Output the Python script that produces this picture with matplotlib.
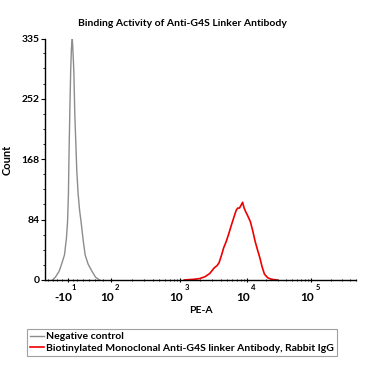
import numpy as np
import matplotlib
matplotlib.use("Agg")
import matplotlib.pyplot as plt

plt.rcParams["font.family"] = ["Lato", "DejaVu Sans"]
plt.rcParams["font.weight"] = "bold"

# x positions are on the display (biexponential) scale, roughly 10^n -> n
neg_x = [1.127, 1.17, 1.225, 1.27, 1.306, 1.335, 1.352, 1.365, 1.373, 1.386,
         1.399, 1.41, 1.423, 1.433, 1.446, 1.46, 1.475, 1.49, 1.51, 1.532,
         1.554, 1.585, 1.615, 1.66, 1.718, 1.77, 1.831]
neg_y = [0, 4, 12, 24, 35, 58, 81, 120, 170, 235,
         292, 322, 335, 318, 290, 232, 192, 152, 120, 97,
         81, 56, 35, 22, 12, 4, 0]

pos_x = [3.10, 3.169, 3.25, 3.33, 3.408, 3.48, 3.549, 3.59, 3.620, 3.655,
         3.690, 3.725, 3.761, 3.80, 3.831, 3.855, 3.877, 3.90, 3.925, 3.95,
         3.972, 3.995, 4.018, 4.05, 4.089, 4.125, 4.159, 4.195, 4.230, 4.265,
         4.300, 4.35, 4.394, 4.44, 4.489]
pos_y = [0, 0.5, 1, 2, 4.5, 9, 17, 20, 24, 34,
         45, 53, 63, 75, 84, 91, 97, 100, 100, 104,
         108, 100, 95, 89, 81, 68, 54, 42, 31, 18,
         8, 3, 1.4, 0.5, 0]

xtick_pos = [1.352, 2.0, 3.04, 4.04, 5.0]
xtick_base = ["-10", "10", "10", "10", "10"]
xtick_exp = ["1", "2", "3", "4", "5"]
ytick_vals = [0, 84, 168, 252, 335]

fig = plt.figure(figsize=(3.78, 3.77), dpi=100)
ax = fig.add_axes([0.119, 0.2573, 0.823, 0.6393])

l1, = ax.plot(neg_x, neg_y, color="#8c8c8c", lw=1.0)
l2, = ax.plot(pos_x, pos_y, color="#ee0000", lw=1.2)

ax.set_xlim(1.014, 5.394)
ax.set_ylim(0, 335)

ax.spines["top"].set_visible(False)
ax.spines["right"].set_visible(False)
ax.spines["left"].set_linewidth(1.0)
ax.spines["bottom"].set_linewidth(1.0)

# y axis
ax.set_yticks(ytick_vals)
ax.set_yticklabels([str(v) for v in ytick_vals], fontsize=7.5, fontweight="bold")
ax.set_yticks(np.arange(0, 336, 21), minor=True)
ax.tick_params(axis="y", direction="out", length=3, width=0.8, pad=1)
ax.tick_params(axis="y", which="minor", direction="out", length=1.8, width=0.6)

# x axis, labels drawn by hand as 10 with a raised exponent
ax.set_xticks(xtick_pos)
ax.set_xticklabels([""] * len(xtick_pos))
ax.tick_params(axis="x", direction="inout", length=3, width=0.8)
for p, b, e in zip(xtick_pos, xtick_base, xtick_exp):
    ax.annotate(b, xy=(p, 0), xycoords=("data", "axes fraction"),
                xytext=(-3, -12.5), textcoords="offset points",
                ha="center", va="center", fontsize=8.5, fontweight="bold")
    ax.annotate(e, xy=(p, 0), xycoords=("data", "axes fraction"),
                xytext=(4.5, -5.5), textcoords="offset points",
                ha="center", va="center", fontsize=5.5, fontweight="bold")

minor = []
for i in range(1, 4):
    a, b = xtick_pos[i], xtick_pos[i + 1]
    for k in range(2, 10):
        minor.append(a + np.log10(k) * (b - a))
for k in range(2, 6):
    minor.append(5.0 + np.log10(k) * 0.96)
for p in [1.06, 1.13, 1.2, 1.27, 1.43, 1.5, 1.58, 1.67, 1.77, 1.88]:
    minor.append(p)
ax.set_xticks(minor, minor=True)
ax.tick_params(axis="x", which="minor", direction="inout", length=2, width=0.6)

ax.set_xlabel("PE-A", fontsize=7.5, fontweight="bold", labelpad=14)
ax.set_ylabel("Count", fontsize=8, fontweight="bold", labelpad=6)

fig.text(0.483, 0.937, "Binding Activity of Anti-G4S Linker Antibody",
         ha="center", va="center", fontsize=7.5, fontweight="bold")

leg = fig.legend([l1, l2],
                 ["Negative control",
                  "Biotinylated Monoclonal Anti-G4S linker Antibody, Rabbit IgG"],
                 loc="upper left", bbox_to_anchor=(0.071, 0.128),
                 frameon=True, fancybox=False, fontsize=7.5,
                 handlelength=1.3, handletextpad=0.2, borderpad=0.3,
                 labelspacing=0.25, borderaxespad=0)
leg.get_frame().set_edgecolor("#888888")
leg.get_frame().set_linewidth(0.8)

fig.savefig("out.png", dpi=100)
